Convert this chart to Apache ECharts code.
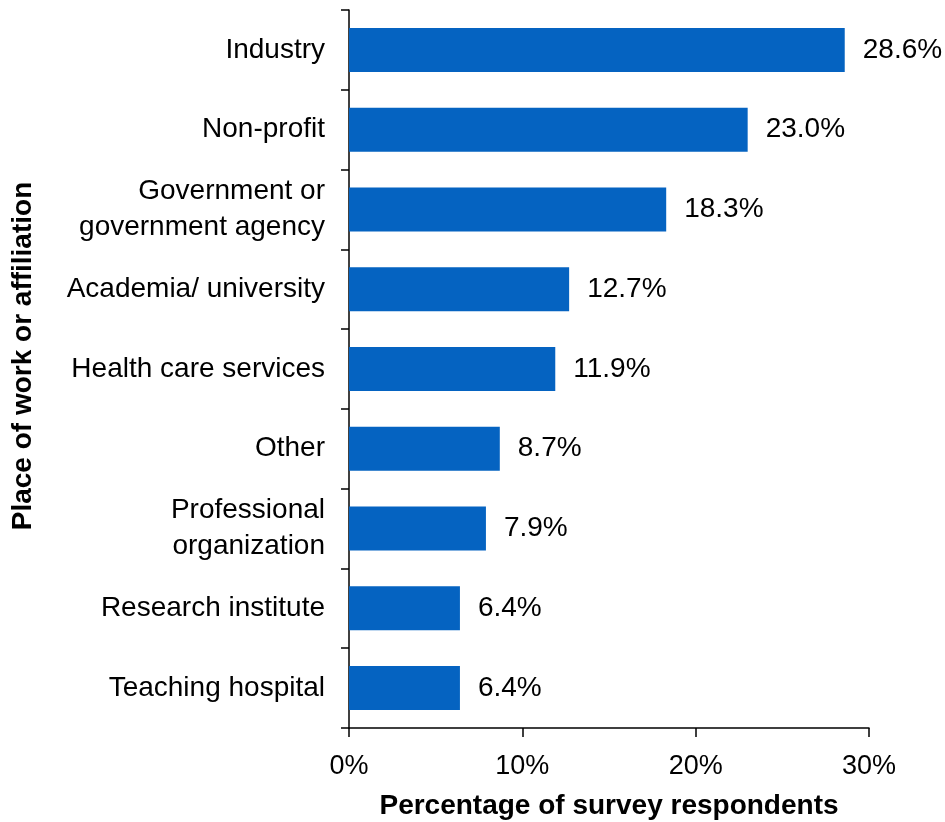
<!DOCTYPE html>
<html>
<head>
<meta charset="utf-8">
<script src="https://cdn.jsdelivr.net/npm/echarts@6/dist/echarts.min.js"></script>
<style>
    html, body { margin: 0; padding: 0; background: #fff; }
    #chart { width: 945px; height: 822px; }
</style>
</head>
<body>
<div id="chart"></div>
<script>
var categories = [
    'Industry',
    'Non-profit',
    'Government or\ngovernment agency',
    'Academia/ university',
    'Health care services',
    'Other',
    'Professional\norganization',
    'Research institute',
    'Teaching hospital'
];
var percentages = [28.6, 23.0, 18.3, 12.7, 11.9, 8.7, 7.9, 6.4, 6.4];
var xTicks = [0, 10, 20, 30];

var font = 'Liberation Sans, Arial, sans-serif';

var myChart = echarts.init(document.getElementById('chart'));
myChart.setOption({
    animation: false,
    grid: {
        left: 349,
        right: 76,
        top: 10,
        bottom: 94,
        containLabel: false,
        outerBoundsMode: 'none'
    },
    xAxis: {
        type: 'value',
        min: xTicks[0],
        max: xTicks[xTicks.length - 1],
        interval: 10,
        name: 'Percentage of survey respondents',
        nameLocation: 'middle',
        nameGap: 64,
        nameTextStyle: {color: '#000', fontSize: 28, fontWeight: 'bold', fontFamily: font},
        axisLine: {show: true, lineStyle: {color: '#000', width: 1.5}},
        axisTick: {show: true, length: 9, lineStyle: {color: '#000', width: 1.5}},
        axisLabel: {
            margin: 25,
            color: '#000',
            fontSize: 27,
            fontFamily: font,
            formatter: '{value}%'
        },
        splitLine: {show: false}
    },
    yAxis: {
        type: 'category',
        inverse: true,
        data: categories,
        name: 'Place of work or affiliation',
        nameLocation: 'middle',
        nameGap: 312,
        nameTextStyle: {color: '#000', fontSize: 28, fontWeight: 'bold', fontFamily: font, padding: [0, 0, 0, 26]},
        axisLine: {show: true, lineStyle: {color: '#000', width: 1.5}},
        axisTick: {show: true, length: 8, lineStyle: {color: '#000', width: 1.5}},
        axisLabel: {
            margin: 24,
            color: '#000',
            fontSize: 28,
            lineHeight: 36,
            fontFamily: font,
            align: 'right'
        }
    },
    series: [
        {
            type: 'bar',
            data: percentages,
            barWidth: 44,
            itemStyle: {color: '#0563C1'},
            label: {
                show: true,
                position: 'right',
                distance: 18,
                color: '#000',
                fontSize: 28,
                fontFamily: font,
                formatter: function (p) { return p.value.toFixed(1) + '%'; }
            }
        }
    ]
});
</script>
</body>
</html>
